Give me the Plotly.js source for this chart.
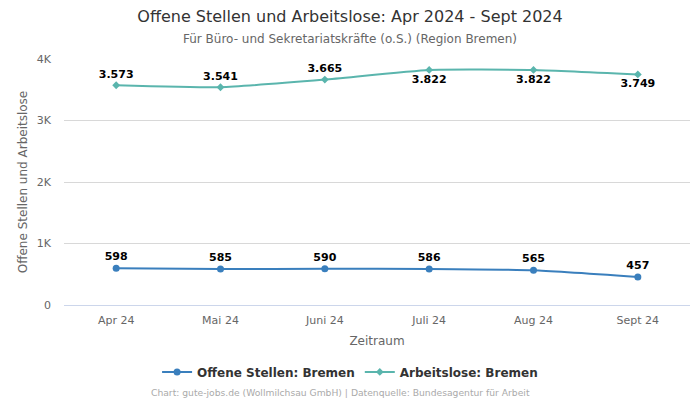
<!DOCTYPE html>
<html><head><meta charset="utf-8">
<script src="https://cdn.plot.ly/plotly-3.0.1.min.js"></script>
<style>html,body{margin:0;padding:0;background:#fff}#c{width:700px;height:400px}</style>
</head><body><div id="c"></div>
<script>
const categories = ["Apr 24", "Mai 24", "Juni 24", "Juli 24", "Aug 24", "Sept 24"];
const offeneStellen = [598, 585, 590, 586, 565, 457];
const arbeitslose = [3573, 3541, 3665, 3822, 3822, 3749];
const yTickVals = [0, 1000, 2000, 3000, 4000];
const yTickText = ["0", "1K", "2K", "3K", "4K"];
const arbeitslosePos = ["top center", "top center", "top center", "bottom center", "bottom center", "bottom center"];

function fmt(v){ return String(v).replace(/\B(?=(\d{3})+(?!\d))/g, "."); }
const font = "DejaVu Sans, sans-serif";

const traces = [
  {x: categories, y: offeneStellen, name: "Offene Stellen: Bremen", type: "scatter", mode: "lines+markers+text",
   line: {color: "#3a7fbd", width: 2, shape: "spline", smoothing: 0.45}, marker: {color: "#3a7fbd", size: 7, symbol: "circle"},
   text: offeneStellen.map(fmt), textposition: "top center",
   textfont: {family: font, size: 11, color: "#000", weight: "bold"}, cliponaxis: false, hoverinfo: "skip"},
  {x: categories, y: arbeitslose, name: "Arbeitslose: Bremen", type: "scatter", mode: "lines+markers+text",
   line: {color: "#5ab5ad", width: 2, shape: "spline", smoothing: 0.45}, marker: {color: "#5ab5ad", size: 6, symbol: "diamond"},
   text: arbeitslose.map(fmt), textposition: arbeitslosePos,
   textfont: {family: font, size: 11, color: "#000", weight: "bold"}, cliponaxis: false, hoverinfo: "skip"}
];

const layout = {
  width: 700, height: 400,
  margin: {l: 64, r: 10, t: 59, b: 95},
  paper_bgcolor: "#fff", plot_bgcolor: "#fff",
  font: {family: font, color: "#666"},
  title: {text: "Offene Stellen und Arbeitslose: Apr 2024 - Sept 2024", font: {family: font, size: 16, color: "#333"}, x: 0.5, xanchor: "center", y: 0.958, yanchor: "middle"},
  xaxis: {type: "category", range: [-0.5, 5.5], showgrid: false, zeroline: false,
    showline: true, linecolor: "#ccd6eb", linewidth: 1, ticks: "", tickfont: {family: font, size: 11, color: "#666"},
    ticklabelstandoff: 5,
    title: {text: "Zeitraum", font: {family: font, size: 12, color: "#666"}, standoff: 10}, fixedrange: true},
  yaxis: {range: [0, 4000], tickvals: yTickVals, ticktext: yTickText, showgrid: true, gridcolor: "#d8d8d8", gridwidth: 1,
    zeroline: false, showline: false, tickfont: {family: font, size: 11, color: "#666"}, ticks: "", ticklen: 0,
    ticklabelstandoff: 12,
    title: {text: "Offene Stellen und Arbeitslose", font: {family: font, size: 12, color: "#666"}, standoff: 6}, fixedrange: true},
  showlegend: true,
  legend: {orientation: "h", x: 0.457, xanchor: "center", y: -0.272, yanchor: "middle",
    font: {family: font, size: 12, color: "#333", weight: "bold"}, itemwidth: 30, traceorder: "normal"},
  annotations: [
    {text: "Für Büro- und Sekretariatskräfte (o.S.) (Region Bremen)", xref: "paper", yref: "paper", x: 0.457, y: 1, yshift: 20, xanchor: "center", yanchor: "middle", showarrow: false, font: {family: font, size: 12, color: "#666"}},
    {text: "Chart: gute-jobs.de (Wollmilchsau GmbH) | Datenquelle: Bundesagentur für Arbeit", xref: "paper", yref: "paper", x: 0.441, y: 0, yshift: -87, xanchor: "center", yanchor: "middle", showarrow: false, font: {family: font, size: 9.2, color: "#aaa"}}
  ]
};
Plotly.newPlot("c", traces, layout, {displayModeBar: false, staticPlot: true});
</script></body></html>
